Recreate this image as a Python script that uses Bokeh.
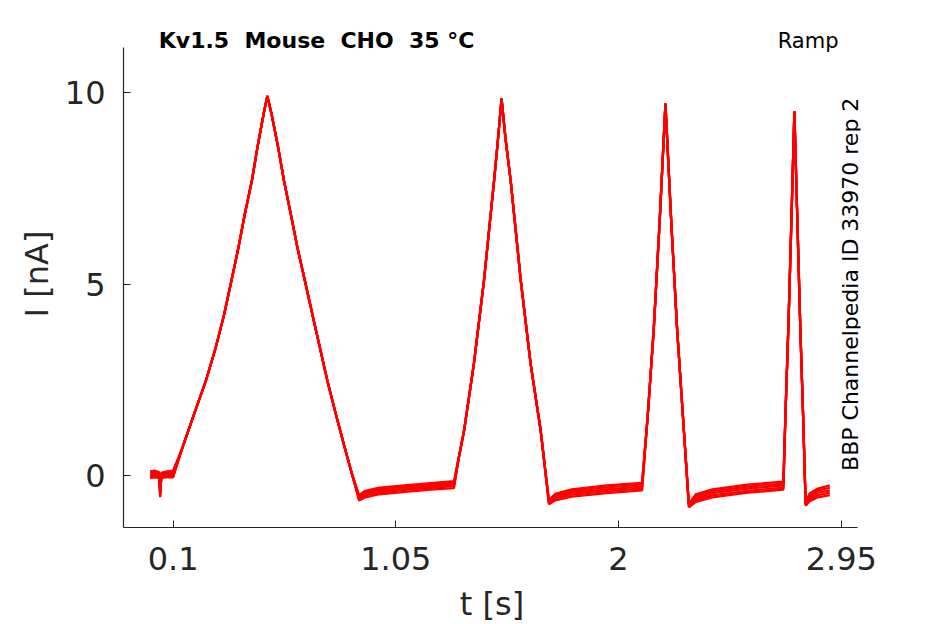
import math
from bokeh.plotting import figure
from bokeh.models import FixedTicker, Label, Range1d
from bokeh.embed import file_html
from bokeh.resources import INLINE

# ---------------- data ----------------
x_ticks = [0.1, 1.05, 2, 2.95]
x_tick_labels = ["0.1", "1.05", "2", "2.95"]
y_ticks = [0, 5, 10]
y_tick_labels = ["0", "5", "10"]

# ramp segments shared by all sweeps (time in s, current in nA)
ramp1_t = [0.140, 0.190, 0.240, 0.282, 0.318, 0.349, 0.379, 0.406, 0.436, 0.460, 0.486, 0.502,
           0.520, 0.548, 0.573, 0.602, 0.630, 0.662, 0.694, 0.726, 0.758, 0.794, 0.832, 0.862]
ramp1_i = [0.72, 1.60, 2.47, 3.34, 4.21, 5.09, 5.96, 6.83, 7.70, 8.58, 9.45, 9.92,
           9.45, 8.58, 7.70, 6.83, 5.96, 5.09, 4.21, 3.34, 2.47, 1.60, 0.72, 0.05]
ramp2_t = [1.320, 1.341, 1.383, 1.426, 1.469, 1.486, 1.501, 1.518, 1.540, 1.583, 1.625, 1.668]
ramp2_i = [0.50, 1.16, 2.91, 5.09, 7.70, 8.80, 9.85, 8.80, 7.70, 5.09, 2.91, 1.16]
ramp3_t = [2.125, 2.150, 2.175, 2.200, 2.225, 2.250, 2.275]
ramp3_i = [1.6, 3.8, 6.6, 9.72, 6.6, 3.8, 1.5]
ramp4_t = [2.7125, 2.725, 2.7375, 2.750, 2.7625, 2.775, 2.7875]
ramp4_i = [1.7, 4.0, 6.7, 9.52, 6.7, 3.9, 1.5]

# holding segments, one row per sweep
seg0_t = [0.002, 0.020, 0.040, 0.045, 0.050, 0.075, 0.100]
seg0_i = [
    [0.10, 0.12, 0.08, -0.55, 0.06, 0.10, 0.12],
    [0.05, 0.06, 0.04, -0.58, 0.03, 0.06, 0.06],
    [0.00, 0.02, 0.01, -0.50, 0.00, 0.02, 0.01],
    [-0.04, -0.02, -0.03, -0.45, -0.04, -0.02, -0.03],
    [-0.08, -0.06, -0.07, -0.40, -0.07, -0.05, -0.06],
]
seg1_t = [0.893, 0.920, 0.980, 1.100, 1.200, 1.298]
seg1_i = [
    [-0.66, -0.58, -0.50, -0.43, -0.38, -0.34],
    [-0.62, -0.53, -0.45, -0.38, -0.33, -0.29],
    [-0.58, -0.49, -0.41, -0.34, -0.29, -0.24],
    [-0.55, -0.45, -0.37, -0.30, -0.25, -0.20],
    [-0.52, -0.41, -0.33, -0.26, -0.21, -0.16],
]
seg2_t = [1.703, 1.730, 1.800, 1.950, 2.100]
seg2_i = [
    [-0.76, -0.66, -0.56, -0.47, -0.40],
    [-0.73, -0.61, -0.51, -0.42, -0.35],
    [-0.70, -0.57, -0.46, -0.37, -0.30],
    [-0.68, -0.53, -0.41, -0.32, -0.25],
    [-0.66, -0.49, -0.37, -0.27, -0.20],
]
seg3_t = [2.300, 2.330, 2.400, 2.550, 2.703]
seg3_i = [
    [-0.84, -0.70, -0.58, -0.46, -0.38],
    [-0.81, -0.65, -0.53, -0.41, -0.33],
    [-0.79, -0.60, -0.47, -0.35, -0.27],
    [-0.77, -0.55, -0.42, -0.30, -0.22],
    [-0.75, -0.50, -0.37, -0.25, -0.17],
]
seg4_t = [2.798, 2.815, 2.850, 2.901]
seg4_i = [
    [-0.80, -0.68, -0.58, -0.52],
    [-0.78, -0.63, -0.52, -0.46],
    [-0.76, -0.58, -0.46, -0.40],
    [-0.74, -0.53, -0.40, -0.33],
    [-0.72, -0.48, -0.35, -0.27],
]

NB = "\u00a0"
title_text = "Kv1.5" + NB * 2 + "Mouse" + NB * 2 + "CHO" + NB * 2 + "35 °C"
protocol_text = "Ramp"
side_text = "BBP Channelpedia ID 33970 rep 2"

# ---------------- figure ----------------
p = figure(
    frame_width=737, frame_height=507,
    min_border_left=123, min_border_right=70,
    min_border_top=20, min_border_bottom=89,
    output_backend="svg", toolbar_location=None,
    x_range=Range1d(-0.1115, 3.032), y_range=Range1d(-1.37, 11.894),
)
p.outline_line_color = None
p.xgrid.visible = False
p.ygrid.visible = False
p.background_fill_color = "white"
p.border_fill_color = "white"

for k in range(len(seg0_i)):
    xs = seg0_t + ramp1_t + seg1_t + ramp2_t + seg2_t + ramp3_t + seg3_t + ramp4_t + seg4_t
    ys = seg0_i[k] + ramp1_i + seg1_i[k] + ramp2_i + seg2_i[k] + ramp3_i + seg3_i[k] + ramp4_i + seg4_i[k]
    p.line(xs, ys, line_color="#ff0000", line_width=2.3)

axis_color = "#262626"
for ax in (p.xaxis[0], p.yaxis[0]):
    ax.axis_line_color = axis_color
    ax.axis_line_width = 1.2
    ax.major_tick_line_color = axis_color
    ax.major_tick_in = 7
    ax.major_tick_out = 0
    ax.minor_tick_line_color = None
    ax.major_label_text_font = "DejaVu Sans"
    ax.major_label_text_font_size = "32px"
    ax.major_label_text_color = axis_color
    ax.axis_label_text_font = "DejaVu Sans"
    ax.axis_label_text_font_size = "32px"
    ax.axis_label_text_font_style = "normal"
    ax.axis_label_text_color = axis_color

p.xaxis.bounds = (-0.1115, 3.019)
p.yaxis.bounds = (-1.37, 11.19)
p.xaxis.ticker = FixedTicker(ticks=x_ticks)
p.xaxis.major_label_overrides = {t: s for t, s in zip(x_ticks, x_tick_labels)}
p.yaxis.ticker = FixedTicker(ticks=y_ticks)
p.yaxis.major_label_overrides = {t: s for t, s in zip(y_ticks, y_tick_labels)}
p.xaxis.axis_label = "t [s]"
p.yaxis.axis_label = "I [nA]"
p.xaxis.major_label_standoff = 19
p.xaxis.axis_label_standoff = 12
p.yaxis.major_label_standoff = 18
p.yaxis.axis_label_standoff = 6

p.add_layout(Label(x=0.039, y=11.37, text=title_text, text_font="DejaVu Sans",
                   text_font_size="22px", text_font_style="bold", text_color="black",
                   text_align="left", text_baseline="middle"))
p.add_layout(Label(x=2.938, y=11.37, text=protocol_text, text_font="DejaVu Sans",
                   text_font_size="21px", text_color="black",
                   text_align="right", text_baseline="middle"))
p.add_layout(Label(x=2.988, y=0.11, text=side_text, text_font="DejaVu Sans",
                   text_font_size="22px", text_color="black", angle=math.pi / 2,
                   text_align="left", text_baseline="middle"))

open("out.html", "w").write(file_html(p, INLINE))
